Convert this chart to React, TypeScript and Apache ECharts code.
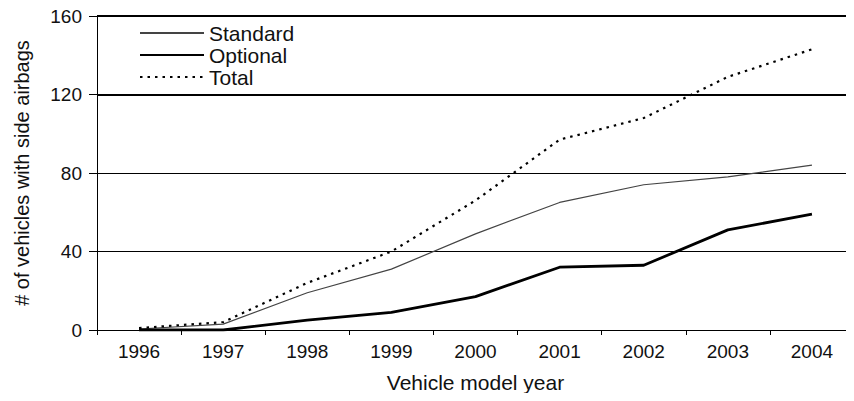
import React, { useEffect, useRef } from "react";
import * as echarts from "echarts";

const years = ["1996", "1997", "1998", "1999", "2000", "2001", "2002", "2003", "2004"];
const standardValues = [0.5, 3, 19, 31, 49, 65, 74, 78, 84];
const optionalValues = [0, 0, 5, 9, 17, 32, 33, 51, 59];
const totalValues = [1, 4, 24, 40, 66, 97, 108, 129, 143];
const yTicks = { min: 0, max: 160, interval: 40 };
const heavyLines = [120, 160];

const FONT = "'Liberation Sans', Arial, Helvetica, sans-serif";

export default function App() {
  const ref = useRef<HTMLDivElement>(null);
  useEffect(() => {
    if (!ref.current) return;
    const chart = echarts.init(ref.current, undefined, { renderer: "svg" });
    chart.setOption({
      animation: false,
      backgroundColor: "#ffffff",
      textStyle: { fontFamily: FONT, color: "#111" },
      grid: { left: 97, top: 16, height: 314, width: 765 },
      legend: {
        orient: "vertical",
        left: 134,
        top: 17,
        itemWidth: 64,
        itemHeight: 22,
        itemGap: 0,
        itemStyle: { opacity: 0 },
        textStyle: { fontFamily: FONT, fontSize: 21, lineHeight: 22, color: "#111", padding: [0, 0, 0, 0] },
        data: ["Standard", "Optional", "Total"],
      },
      xAxis: {
        type: "category",
        data: years,
        boundaryGap: true,
        name: "Vehicle model year",
        nameLocation: "middle",
        nameGap: 42,
        nameTextStyle: { fontFamily: FONT, fontSize: 21, color: "#111" },
        axisLine: { lineStyle: { color: "#000", width: 1 } },
        axisTick: { show: true, length: 5, lineStyle: { color: "#000" } },
        axisLabel: { fontFamily: FONT, fontSize: 19, color: "#111", margin: 12 },
      },
      yAxis: {
        type: "value",
        min: yTicks.min,
        max: yTicks.max,
        interval: yTicks.interval,
        name: "# of vehicles with side airbags",
        nameLocation: "middle",
        nameGap: 65,
        nameTextStyle: { fontFamily: FONT, fontSize: 20, color: "#111" },
        axisLine: { show: true, lineStyle: { color: "#000", width: 1 } },
        axisTick: { show: true, length: 8, lineStyle: { color: "#000" } },
        axisLabel: { fontFamily: FONT, fontSize: 19, color: "#111", margin: 15 },
        splitLine: { show: true, lineStyle: { color: "#000", width: 1 } },
      },
      series: [
        {
          name: "Standard",
          type: "line",
          data: standardValues,
          symbol: "none",
          lineStyle: { color: "#444", width: 1.2 },
          itemStyle: { color: "#444" },
          markLine: {
            silent: true,
            symbol: "none",
            label: { show: false },
            lineStyle: { color: "#000", width: 2, type: "solid" },
            data: heavyLines.map((v) => ({ yAxis: v })),
          },
        },
        {
          name: "Optional",
          type: "line",
          data: optionalValues,
          symbol: "none",
          lineStyle: { color: "#000", width: 2.8 },
          itemStyle: { color: "#000" },
        },
        {
          name: "Total",
          type: "line",
          data: totalValues,
          symbol: "none",
          lineStyle: { color: "#000", width: 2.2, type: [2.5, 5] },
          itemStyle: { color: "#000" },
        },
      ],
    });
    return () => chart.dispose();
  }, []);
  return <div ref={ref} style={{ width: 854, height: 401, margin: -8 }} />;
}
